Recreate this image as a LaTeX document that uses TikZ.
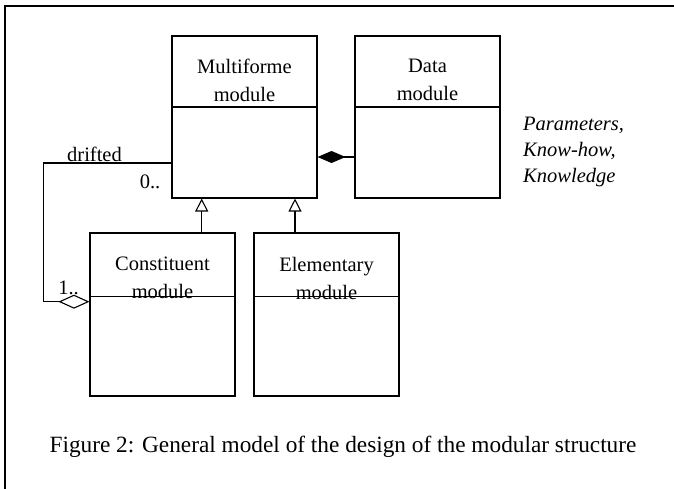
\documentclass[tikz,border=0pt]{standalone}
\usepackage{fontspec}
\setmainfont{Liberation Serif}
\usetikzlibrary{arrows.meta}
\begin{document}
\begin{tikzpicture}[x=1pt,y=-1pt,
  box/.style={draw,line width=1.1pt,minimum width=145pt,inner sep=0pt},
  title/.style={align=center,font=\fontsize{20.5}{28}\selectfont,inner sep=0pt},
  lbl/.style={font=\fontsize{20.5}{24}\selectfont,inner sep=0pt},
  conn/.style={line width=1.1pt},
  gen/.style={conn,-{Triangle[open,length=13pt,width=13pt,line width=1.1pt]}},
  comp/.style={conn,{Diamond[length=28pt,width=12pt,fill=black]}-},
  aggr/.style={conn,-{Diamond[open,length=31pt,width=14pt,line width=1.1pt]}}
]
\useasboundingbox (0,0) rectangle (674,489);
% frame
\draw[line width=1.8pt] (5,489) -- (5,6) -- (674,6);
% boxes
\node[box,minimum height=162pt] (multi) at (244.5,117) {};
\node[box,minimum height=162pt] (data) at (427.5,117) {};
\node[box,minimum height=163pt] (const) at (162.5,314.5) {};
\node[box,minimum height=163pt] (elem) at (326.5,314.5) {};
% dividers
\draw[conn] (multi.west |- 0,107) -- (multi.east |- 0,107);
\draw[conn] (data.west |- 0,107) -- (data.east |- 0,107);
\draw[conn] (const.west |- 0,296.5) -- (const.east |- 0,296.5);
\draw[conn] (elem.west |- 0,296.5) -- (elem.east |- 0,296.5);
% titles
\node[title] (tmulti) at (244.5,80) {Multiforme\\module};
\node[title] (tdata) at (427.5,80) {Data\\module};
\node[title] (tconst) at (162.5,278) {Constituent\\module};
\node[title] (telem) at (326.5,278) {Elementary\\module};
% generalizations
\coordinate (g1) at (201.7,0);
\coordinate (g2) at (295,0);
\draw[gen] (const.north -| g1) -- (multi.south -| g1);
\draw[gen] (elem.north -| g2) -- (multi.south -| g2);
% composition
\coordinate (c1) at (0,157);
\draw[comp] (multi.east |- c1) -- (data.west |- c1);
% aggregation
\coordinate (a1) at (43.3,163);
\coordinate (a2) at (0,301.7);
\draw[aggr] (multi.west |- a1) -- (a1) |- (const.west |- a2);
% labels
\node[lbl] (drifted) at (94.5,154) {drifted};
\node[lbl] (zero) at (150,182) {0..};
\node[lbl] (one) at (68.5,288) {1..};
\node[align=left,anchor=west,font=\fontsize{20.5}{26}\selectfont\itshape,inner sep=0pt] (params) at (523,152) {Parameters,\\Know-how,\\Knowledge};
% caption
\node[font=\fontsize{23.3}{28}\selectfont,inner sep=0pt,anchor=base] (caption) at (343,452) {Figure 2: General model of the design of the modular structure};
\end{tikzpicture}
\end{document}
